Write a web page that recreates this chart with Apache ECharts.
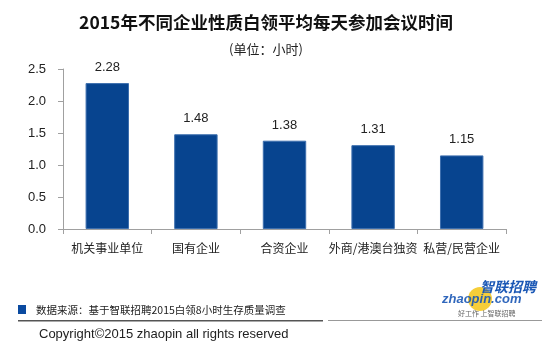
<!DOCTYPE html>
<html>
<head>
<meta charset="utf-8">
<script src="https://cdn.jsdelivr.net/npm/echarts@6/dist/echarts.min.js"></script>
<style>
  html, body { margin: 0; padding: 0; background: #fff; }
  #chart { width: 550px; height: 349px; }
</style>
</head>
<body>
<div id="chart"></div>
<script>
// Enterprise types and average daily meeting hours (2015)
const categories = ['机关事业单位', '国有企业', '合资企业', '外商/港澳台独资', '私营/民营企业'];
const hours = [2.28, 1.48, 1.38, 1.31, 1.15];
const yTicks = ['0.0', '0.5', '1.0', '1.5', '2.0', '2.5'];

const FONT = '"Noto Sans CJK SC", "Liberation Sans", sans-serif';
const LATIN = '"Liberation Sans", sans-serif';
const chart = echarts.init(document.getElementById('chart'), null, { renderer: 'canvas' });

chart.setOption({
  animation: false,
  backgroundColor: '#ffffff',
  textStyle: { fontFamily: FONT },
  grid: { left: 63, right: 44, top: 69, bottom: 120, containLabel: false },
  xAxis: {
    type: 'category',
    data: categories,
    axisLine: { lineStyle: { color: '#a0a0a0', width: 1 } },
    axisTick: { show: true, length: 5, lineStyle: { color: '#a0a0a0' } },
    axisLabel: { color: '#222', fontSize: 12, margin: 13, interval: 0, fontFamily: FONT }
  },
  yAxis: {
    type: 'value',
    min: 0, max: 2.5, interval: 0.5,
    axisLine: { show: true, lineStyle: { color: '#a0a0a0', width: 1 } },
    axisTick: { show: true, length: 5, lineStyle: { color: '#a0a0a0' } },
    splitLine: { show: false },
    axisLabel: {
      color: '#222', fontSize: 13, margin: 17, fontFamily: LATIN,
      formatter: (v) => yTicks[Math.round(v / 0.5)]
    }
  },
  series: [{
    type: 'bar',
    data: hours,
    barWidth: '49%',
    itemStyle: { color: '#07448f', borderColor: '#3d6fae', borderWidth: 1 },
    label: {
      show: true, position: 'top', distance: 9,
      color: '#222', fontSize: 13, fontFamily: LATIN,
      formatter: (p) => p.value.toFixed(2)
    }
  }],
  graphic: [
    // headings
    { type: 'text', x: 266, y: 22, style: { text: '2015年不同企业性质白领平均每天参加会议时间', fill: '#111', font: 'bold 17.5px ' + FONT, textAlign: 'center', textVerticalAlign: 'middle' } },
    { type: 'text', x: 266, y: 49, style: { text: '(单位：小时)', fill: '#222', font: '13px ' + FONT, textAlign: 'center', textVerticalAlign: 'middle' } },
    // source note
    { type: 'rect', x: 18, y: 305, shape: { width: 8, height: 9 }, style: { fill: '#0a4aa0' } },
    { type: 'text', x: 36, y: 310, style: { text: '数据来源：基于智联招聘2015白领8小时生存质量调查', fill: '#222', font: '10.5px ' + FONT, textVerticalAlign: 'middle' } },
    { type: 'rect', x: 18, y: 320, shape: { width: 305, height: 1.5 }, style: { fill: '#555' } },
    { type: 'rect', x: 328, y: 320, shape: { width: 214, height: 1 }, style: { fill: '#999' } },
    { type: 'text', x: 39, y: 334, style: { text: 'Copyright©2015 zhaopin all rights reserved', fill: '#222', font: '13px ' + LATIN, textVerticalAlign: 'middle' } },
    // logo
    { type: 'circle', shape: { cx: 480, cy: 299, r: 12 }, style: { fill: '#f5c518', opacity: 0.85 } },
    { type: 'text', x: 480, y: 287, style: { text: '智联招聘', fill: '#1a57b5', font: 'italic bold 14px ' + FONT, textVerticalAlign: 'middle' } },
    { type: 'text', x: 442, y: 299, style: { text: 'zhaopin.com', fill: '#1a57b5', font: 'italic bold 13px ' + LATIN, textVerticalAlign: 'middle', opacity: 0.9 } },
    { type: 'text', x: 458, y: 313, style: { text: '好工作 上智联招聘', fill: '#666', font: '7px ' + FONT, textVerticalAlign: 'middle' } }
  ]
});
</script>
</body>
</html>
